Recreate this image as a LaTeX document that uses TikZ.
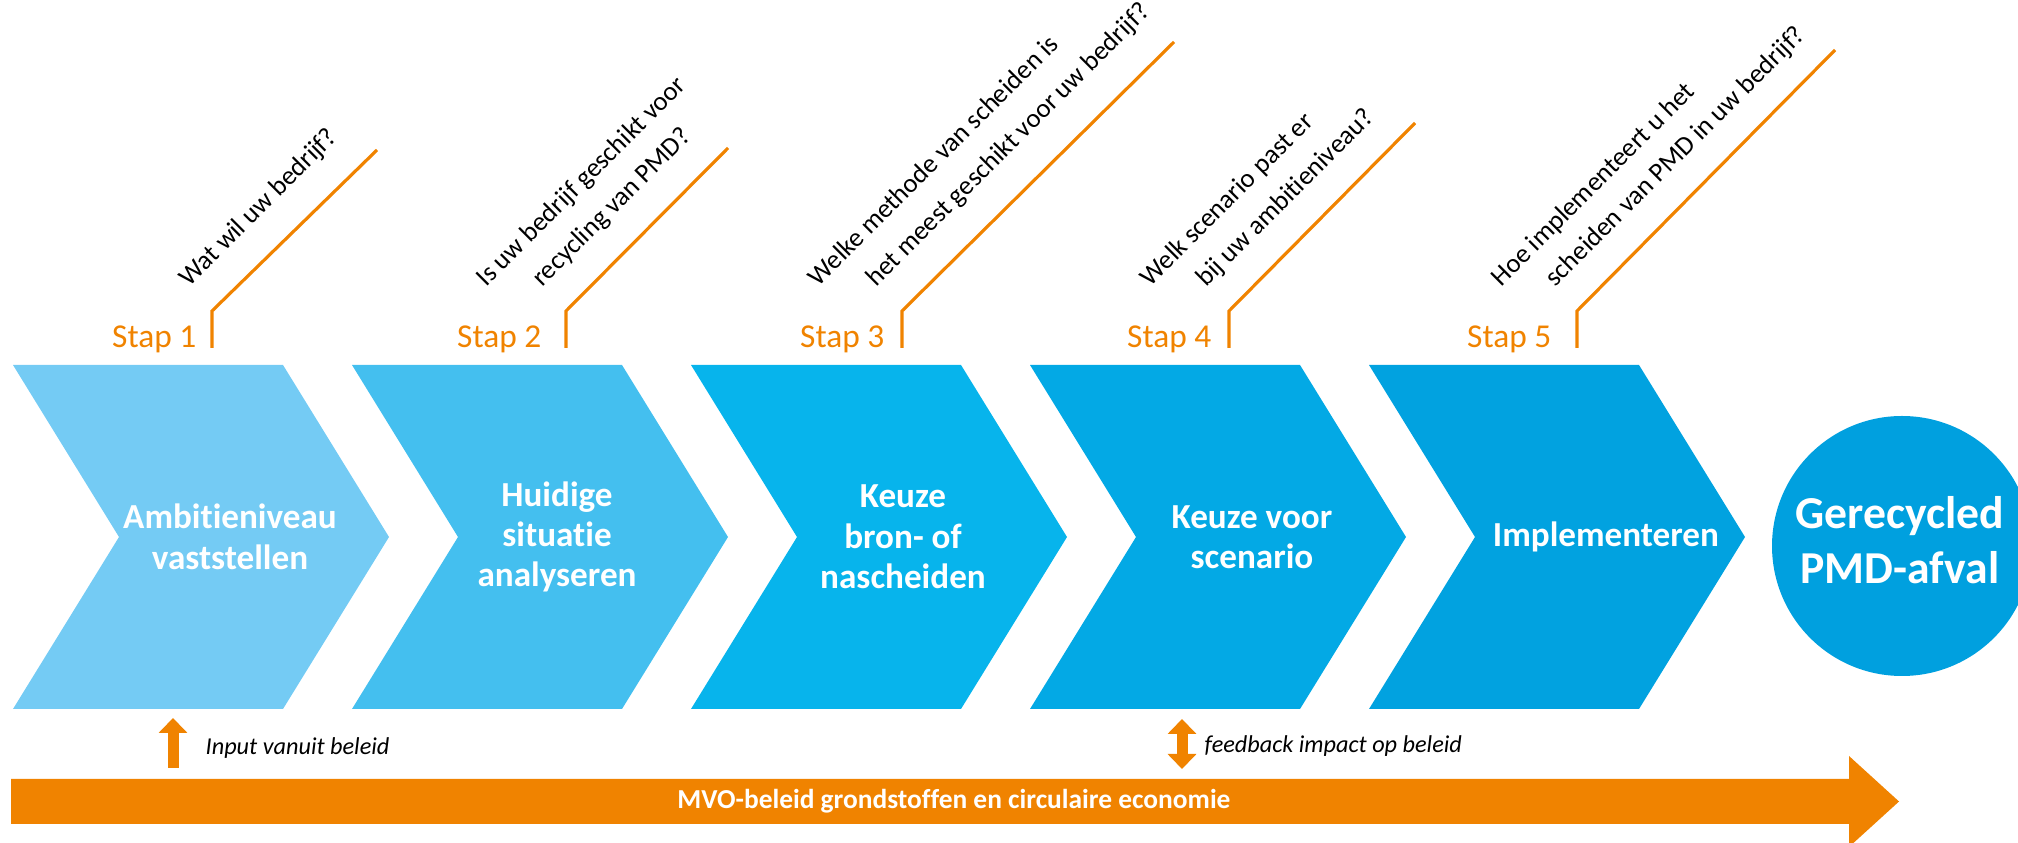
\documentclass[tikz,border=0pt]{standalone}
\usepackage{fontspec}
\setmainfont{Carlito}[Ligatures=NoCommon]
\usetikzlibrary{arrows.meta}
\definecolor{oranje}{HTML}{F08300}
\definecolor{blauwa}{HTML}{74CBF4}
\definecolor{blauwb}{HTML}{44BFEF}
\definecolor{blauwc}{HTML}{07B4EC}
\definecolor{blauwd}{HTML}{03A9E5}
\definecolor{blauwe}{HTML}{01A2E0}
\definecolor{blauwf}{HTML}{00A0DF}
\begin{document}
\begin{tikzpicture}[
    staplabel/.style={text=oranje, inner sep=0pt, anchor=base east, font=\fontsize{9.5}{11}\selectfont},
    vraag/.style={inner sep=0pt, anchor=base west, rotate=45, font=\fontsize{7.6}{9}\selectfont},
    stapline/.style={draw=oranje, line width=0.9pt},
    pijltekst/.style={text=white, align=center, font=\fontsize{10}{11.5}\selectfont\bfseries},
    beleid/.style={inner sep=0pt, anchor=base west, font=\fontsize{6.9}{8}\selectfont\itshape},
    beleidpijl/.style={draw=oranje, line width=0.11cm}
  ]
  \useasboundingbox (0,0) rectangle (20.18,8.43);

  \fill[blauwa] (0.13,4.78) -- (2.83,4.78) -- (3.89,3.06) -- (2.83,1.34) -- (0.13,1.34) -- (1.19,3.06) -- cycle;
  \fill[blauwb] (3.52,4.78) -- (6.22,4.78) -- (7.28,3.06) -- (6.22,1.34) -- (3.52,1.34) -- (4.58,3.06) -- cycle;
  \fill[blauwc] (6.91,4.78) -- (9.61,4.78) -- (10.67,3.06) -- (9.61,1.34) -- (6.91,1.34) -- (7.97,3.06) -- cycle;
  \fill[blauwd] (10.30,4.78) -- (13.00,4.78) -- (14.06,3.06) -- (13.00,1.34) -- (10.30,1.34) -- (11.36,3.06) -- cycle;
  \fill[blauwe] (13.69,4.78) -- (16.39,4.78) -- (17.45,3.06) -- (16.39,1.34) -- (13.69,1.34) -- (14.75,3.06) -- cycle;
  \fill[blauwf] (19.02,2.97) circle (1.30);

  \node[pijltekst] (a1) at (2.30,3.06) {Ambitieniveau\\vaststellen};
  \node[pijltekst] (a2) at (5.57,3.06) {Huidige\\situatie\\analyseren};
  \node[pijltekst] (a3) at (9.03,3.06) {Keuze\\bron- of\\nascheiden};
  \node[pijltekst] (a4) at (12.52,3.06) {Keuze voor\\scenario};
  \node[pijltekst] (a5) at (16.06,3.06) {Implementeren};
  \node[text=white, align=center, font=\fontsize{13}{15.6}\selectfont\bfseries] (afval) at (19.00,3.03) {Gerecycled\\PMD-afval};

  \coordinate (b1) at (2.12,4.95);
  \coordinate (k1) at (2.12,5.32);
  \coordinate (e1) at (3.77,6.93);
  \coordinate (b2) at (5.66,4.95);
  \coordinate (k2) at (5.66,5.32);
  \coordinate (e2) at (7.28,6.95);
  \coordinate (b3) at (9.02,4.95);
  \coordinate (k3) at (9.02,5.32);
  \coordinate (e3) at (11.74,8.01);
  \coordinate (b4) at (12.29,4.95);
  \coordinate (k4) at (12.29,5.32);
  \coordinate (e4) at (14.15,7.20);
  \coordinate (b5) at (15.77,4.95);
  \coordinate (k5) at (15.77,5.32);
  \coordinate (e5) at (18.35,7.93);
  \draw[stapline] (b1) -- (k1) -- (e1);
  \draw[stapline] (b2) -- (k2) -- (e2);
  \draw[stapline] (b3) -- (k3) -- (e3);
  \draw[stapline] (b4) -- (k4) -- (e4);
  \draw[stapline] (b5) -- (k5) -- (e5);

  \node[staplabel] (s1) at (1.97,4.95) {Stap 1};
  \node[staplabel] (s2) at (5.42,4.95) {Stap 2};
  \node[staplabel] (s3) at (8.85,4.95) {Stap 3};
  \node[staplabel] (s4) at (12.12,4.95) {Stap 4};
  \node[staplabel] (s5) at (15.52,4.95) {Stap 5};

  \node[vraag] (v1) at (1.89,5.55) {Wat wil uw bedrijf?};
  \node[vraag] (v2a) at (4.86,5.55) {Is uw bedrijf geschikt voor};
  \node[vraag] (v2b) at (5.42,5.55) {recycling van PMD?};
  \node[vraag] (v3a) at (8.18,5.55) {Welke methode van scheiden is};
  \node[vraag] (v3b) at (8.76,5.55) {het meest geschikt voor uw bedrijf?};
  \node[vraag] (v4a) at (11.50,5.55) {Welk scenario past er};
  \node[vraag] (v4b) at (12.06,5.55) {bij uw ambitieniveau?};
  \node[vraag] (v5a) at (15.01,5.55) {Hoe implementeert u het};
  \node[vraag] (v5b) at (15.55,5.55) {scheiden van PMD in uw bedrijf?};

  \fill[oranje] (0.11,0.64) -- (18.49,0.64) -- (18.49,0.87) -- (18.99,0.415) -- (18.49,-0.04) -- (18.49,0.19) -- (0.11,0.19) -- cycle;
  \node[text=white, font=\fontsize{7.8}{9}\selectfont\bfseries] (mvo) at (9.54,0.415) {MVO-beleid grondstoffen en circulaire economie};

  \coordinate (i0) at (1.73,0.75);
  \coordinate (i1) at (1.73,1.25);
  \draw[beleidpijl, -{Triangle[width=0.28cm,length=0.15cm]}] (i0) -- (i1);
  \node[beleid] (input) at (2.05,0.88) {Input vanuit beleid};
  \coordinate (f0) at (11.82,0.74);
  \coordinate (f1) at (11.82,1.24);
  \draw[beleidpijl, {Triangle[width=0.28cm,length=0.15cm]}-{Triangle[width=0.28cm,length=0.15cm]}] (f0) -- (f1);
  \node[beleid] (feedback) at (12.04,0.90) {feedback impact op beleid};
\end{tikzpicture}
\end{document}
